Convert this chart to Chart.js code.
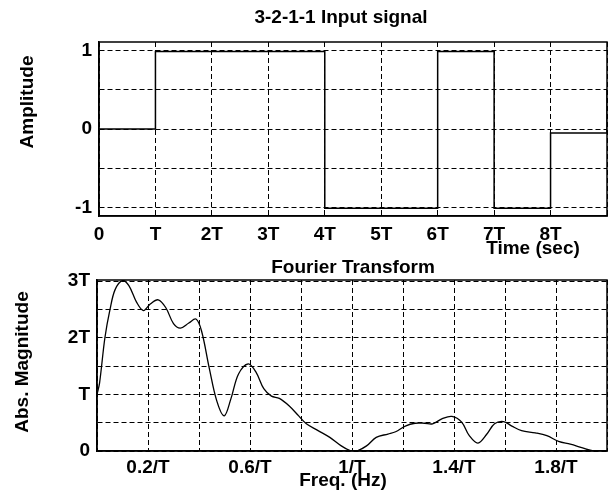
<!DOCTYPE html>
<html>
<head>
<meta charset="utf-8">
<script src="https://cdn.jsdelivr.net/npm/chart.js@4.4.1/dist/chart.umd.min.js"></script>
<style>
  html, body { margin: 0; padding: 0; background: #fff; }
  #wrap { position: relative; width: 608px; height: 499px; }
  #wrap canvas { position: absolute; left: 0; top: 0; }
</style>
</head>
<body>
<div id="wrap">
  <canvas id="signal" width="608" height="499"></canvas>
  <canvas id="fourier" width="608" height="499"></canvas>
</div>
<script>
// 3-2-1-1 input signal: switching times (multiples of T) and the level held from each time
const stepTimes  = [0, 1, 2, 3, 4, 5, 6, 7, 8, 9];
const stepLevels = [0, 0.99, 0.99, 0.99, -1.01, -1.01, 0.99, -1.01, -0.05, 0.5];
const timeTicks = [0, 1, 2, 3, 4, 5, 6, 7, 8, 9];
const timeTickLabels = ['0', 'T', '2T', '3T', '4T', '5T', '6T', '7T', '8T', ''];
const ampTicks = [-1, -0.5, 0, 0.5, 1];
const ampTickLabels = ['-1', '', '0', '', '1'];

// Fourier transform magnitude (frequency in 1/T, magnitude in T)
const freqs = [0, 0.01, 0.031, 0.051, 0.071, 0.1, 0.125, 0.155, 0.182, 0.21, 0.24, 0.27, 0.3, 0.327,
  0.36, 0.388, 0.41, 0.44, 0.47, 0.499, 0.525, 0.555, 0.593, 0.624, 0.654, 0.684, 0.715, 0.753,
  0.791, 0.821, 0.867, 0.913, 0.958, 0.996, 1.019, 1.057, 1.095, 1.141, 1.171, 1.209, 1.247,
  1.285, 1.316, 1.354, 1.392, 1.43, 1.46, 1.494, 1.529, 1.559, 1.594, 1.627, 1.665, 1.719,
  1.764, 1.81, 1.856, 1.901, 1.947, 1.98];
const magnitudes = [1.0, 1.2, 2.0, 2.5, 2.85, 3.01, 2.92, 2.63, 2.48, 2.6, 2.67, 2.53, 2.25, 2.17,
  2.26, 2.33, 2.12, 1.47, 0.88, 0.62, 0.92, 1.36, 1.54, 1.39, 1.1, 0.97, 0.93, 0.8,
  0.62, 0.48, 0.36, 0.24, 0.09, 0.0, 0.0, 0.09, 0.24, 0.3, 0.34, 0.44, 0.49,
  0.49, 0.48, 0.57, 0.61, 0.51, 0.27, 0.14, 0.3, 0.48, 0.52, 0.44, 0.36, 0.32,
  0.27, 0.17, 0.12, 0.06, 0.0, -0.02];
const freqTicks = [0, 0.2, 0.4, 0.6, 0.8, 1.0, 1.2, 1.4, 1.6, 1.8, 2.0];
const freqTickLabels = ['', '0.2/T', '', '0.6/T', '', '1/T', '', '1.4/T', '', '1.8/T', ''];
const magTicks = [0, 0.5, 1, 1.5, 2, 2.5, 3];
const magTickLabels = ['0', '', 'T', '', '2T', '', '3T'];

const FONT_FAMILY = '"Liberation Sans", Arial, Helvetica, sans-serif';
Chart.defaults.font.family = FONT_FAMILY;
Chart.defaults.color = '#000';

// Draws the box around the axes and the free-standing text labels
const frameAndText = {
  id: 'frameAndText',
  afterDraw(chart, args, opts) {
    const { ctx, chartArea: a } = chart;
    ctx.save();
    ctx.strokeStyle = '#000';
    ctx.lineWidth = 1.5;
    ctx.strokeRect(a.left, a.top, a.right - a.left, a.bottom - a.top);
    ctx.fillStyle = '#000';
    ctx.font = 'bold 19px ' + FONT_FAMILY;
    ctx.textAlign = 'center';
    ctx.textBaseline = 'middle';
    for (const t of opts.texts || []) {
      ctx.save();
      ctx.translate(t.x, t.y);
      if (t.rotate) ctx.rotate(-Math.PI / 2);
      ctx.fillText(t.text, 0, 0);
      ctx.restore();
    }
    ctx.restore();
  }
};

function axis(ticks, labels, min, max, fitSize, horizontal, pad) {
  return {
    type: 'linear',
    min, max,
    afterBuildTicks: s => { s.ticks = ticks.map(v => ({ value: v })); },
    afterFit: s => {
      if (horizontal) s.height = fitSize; else s.width = fitSize;
      s.paddingLeft = 0; s.paddingRight = 0; s.paddingTop = 0; s.paddingBottom = 0;
    },
    ticks: {
      callback: (v, i) => labels[i],
      autoSkip: false, maxRotation: 0, minRotation: 0,
      padding: pad,
      color: '#000',
      font: { size: 19, weight: 'bold', family: FONT_FAMILY }
    },
    grid: { color: '#000', lineWidth: 1, drawTicks: false },
    border: { display: true, color: '#000', width: 1.5, dash: [5, 3] }
  };
}

new Chart(document.getElementById('signal'), {
  type: 'line',
  data: {
    datasets: [{
      data: stepTimes.map((t, i) => ({ x: t, y: stepLevels[i] })),
      stepped: 'before',
      borderColor: '#000',
      borderWidth: 1.5,
      pointRadius: 0,
      fill: false
    }]
  },
  options: {
    responsive: false,
    animation: false,
    events: [],
    layout: { padding: { top: 42, right: 1, left: 0, bottom: 259 } },
    plugins: {
      legend: { display: false },
      tooltip: { enabled: false },
      frameAndText: {
        texts: [
          { text: '3-2-1-1 Input signal', x: 341, y: 18 },
          { text: 'Amplitude', x: 28, y: 102, rotate: true },
          { text: 'Time (sec)', x: 533, y: 249 }
        ]
      }
    },
    scales: {
      x: axis(timeTicks, timeTickLabels, 0, 9, 24, true, 7),
      y: axis(ampTicks, ampTickLabels, -1.11, 1.11, 99, false, 7)
    }
  },
  plugins: [frameAndText]
});

new Chart(document.getElementById('fourier'), {
  type: 'line',
  data: {
    datasets: [{
      data: freqs.map((f, i) => ({ x: f, y: magnitudes[i] })),
      borderColor: '#000',
      borderWidth: 1.3,
      pointRadius: 0,
      tension: 0.35,
      fill: false
    }]
  },
  options: {
    responsive: false,
    animation: false,
    events: [],
    layout: { padding: { top: 280, right: 1, left: 0, bottom: 24 } },
    plugins: {
      legend: { display: false },
      tooltip: { enabled: false },
      frameAndText: {
        texts: [
          { text: 'Fourier Transform', x: 353, y: 268 },
          { text: 'Abs. Magnitude', x: 23, y: 362, rotate: true },
          { text: 'Freq. (Hz)', x: 343, y: 481 }
        ]
      }
    },
    scales: {
      x: axis(freqTicks, freqTickLabels, 0, 2, 24, true, 5),
      y: axis(magTicks, magTickLabels, 0, 3.02, 97, false, 7)
    }
  },
  plugins: [frameAndText]
});
</script>
</body>
</html>
